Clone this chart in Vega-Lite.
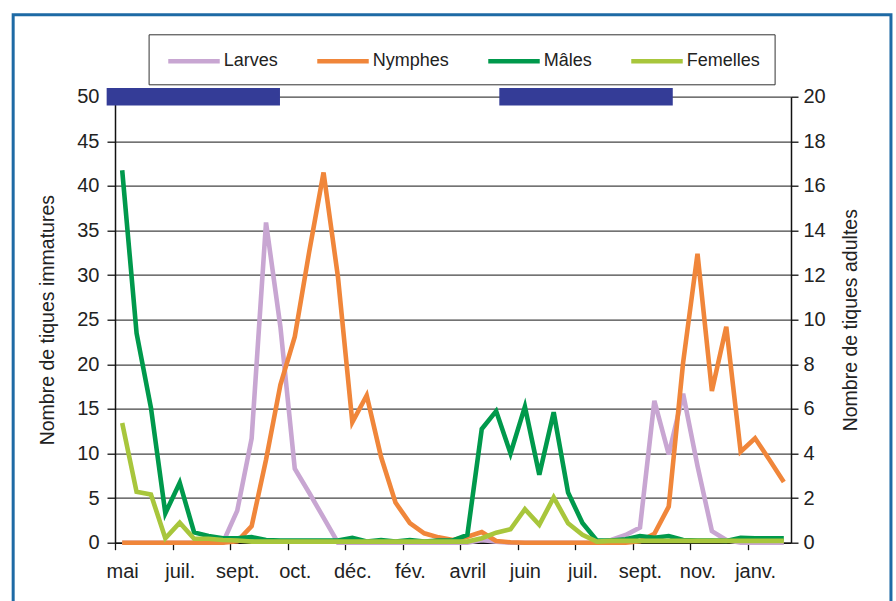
{
  "$schema": "https://vega.github.io/schema/vega-lite/v6.json",
  "width": 676,
  "height": 446,
  "autosize": {"type": "none"},
  "padding": {"left": 115, "top": 96.7, "right": 105, "bottom": 58.3},
  "background": "white",
  "datasets": {
    "comptages": [
      {"i": 0, "Larves": 0, "Nymphes": 0, "Mâles": 16.7, "Femelles": 5.37},
      {"i": 1, "Larves": 0, "Nymphes": 0, "Mâles": 9.4, "Femelles": 2.28},
      {"i": 2, "Larves": 0, "Nymphes": 0, "Mâles": 6.05, "Femelles": 2.16},
      {"i": 3, "Larves": 0, "Nymphes": 0, "Mâles": 1.32, "Femelles": 0.2},
      {"i": 4, "Larves": 0, "Nymphes": 0, "Mâles": 2.69, "Femelles": 0.9},
      {"i": 5, "Larves": 0, "Nymphes": 0, "Mâles": 0.46, "Femelles": 0.18},
      {"i": 6, "Larves": 0, "Nymphes": 0, "Mâles": 0.3, "Femelles": 0.18},
      {"i": 7, "Larves": 0, "Nymphes": 0, "Mâles": 0.2, "Femelles": 0.12},
      {"i": 8, "Larves": 3.6, "Nymphes": 0.15, "Mâles": 0.2, "Femelles": 0.1},
      {"i": 9, "Larves": 11.7, "Nymphes": 1.85, "Mâles": 0.25, "Femelles": 0.05},
      {"i": 10, "Larves": 35.9, "Nymphes": 9.3, "Mâles": 0.12, "Femelles": 0.05},
      {"i": 11, "Larves": 24.2, "Nymphes": 17.7, "Mâles": 0.1, "Femelles": 0.05},
      {"i": 12, "Larves": 8.3, "Nymphes": 23.1, "Mâles": 0.1, "Femelles": 0.05},
      {"i": 13, "Larves": 5.6, "Nymphes": 32.6, "Mâles": 0.1, "Femelles": 0.05},
      {"i": 14, "Larves": 2.8, "Nymphes": 41.5, "Mâles": 0.1, "Femelles": 0.05},
      {"i": 15, "Larves": 0, "Nymphes": 29.8, "Mâles": 0.1, "Femelles": 0.05},
      {"i": 16, "Larves": 0, "Nymphes": 13.5, "Mâles": 0.22, "Femelles": 0.05},
      {"i": 17, "Larves": 0, "Nymphes": 16.5, "Mâles": 0.05, "Femelles": 0.05},
      {"i": 18, "Larves": 0, "Nymphes": 9.6, "Mâles": 0.12, "Femelles": 0.05},
      {"i": 19, "Larves": 0, "Nymphes": 4.5, "Mâles": 0.05, "Femelles": 0.05},
      {"i": 20, "Larves": 0, "Nymphes": 2.2, "Mâles": 0.12, "Femelles": 0.05},
      {"i": 21, "Larves": 0, "Nymphes": 1.05, "Mâles": 0.05, "Femelles": 0.05},
      {"i": 22, "Larves": 0, "Nymphes": 0.6, "Mâles": 0.1, "Femelles": 0.05},
      {"i": 23, "Larves": 0, "Nymphes": 0.3, "Mâles": 0.1, "Femelles": 0.05},
      {"i": 24, "Larves": 0, "Nymphes": 0.67, "Mâles": 0.35, "Femelles": 0.05},
      {"i": 25, "Larves": 0.3, "Nymphes": 1.2, "Mâles": 5.1, "Femelles": 0.2},
      {"i": 26, "Larves": 0.1, "Nymphes": 0.2, "Mâles": 5.9, "Femelles": 0.45},
      {"i": 27, "Larves": 0, "Nymphes": 0.05, "Mâles": 4.0, "Femelles": 0.6},
      {"i": 28, "Larves": 0, "Nymphes": 0, "Mâles": 6.1, "Femelles": 1.5},
      {"i": 29, "Larves": 0, "Nymphes": 0, "Mâles": 3.05, "Femelles": 0.8},
      {"i": 30, "Larves": 0, "Nymphes": 0, "Mâles": 5.85, "Femelles": 2.03},
      {"i": 31, "Larves": 0, "Nymphes": 0, "Mâles": 2.25, "Femelles": 0.87},
      {"i": 32, "Larves": 0, "Nymphes": 0, "Mâles": 0.88, "Femelles": 0.35},
      {"i": 33, "Larves": 0, "Nymphes": 0, "Mâles": 0.1, "Femelles": 0.05},
      {"i": 34, "Larves": 0.3, "Nymphes": 0, "Mâles": 0.1, "Femelles": 0.08},
      {"i": 35, "Larves": 0.86, "Nymphes": 0, "Mâles": 0.15, "Femelles": 0.08},
      {"i": 36, "Larves": 1.7, "Nymphes": 0.15, "Mâles": 0.3, "Femelles": 0.08},
      {"i": 37, "Larves": 15.9, "Nymphes": 1.0, "Mâles": 0.22, "Femelles": 0.08},
      {"i": 38, "Larves": 9.9, "Nymphes": 4.05, "Mâles": 0.3, "Femelles": 0.08},
      {"i": 39, "Larves": 16.7, "Nymphes": 20.2, "Mâles": 0.12, "Femelles": 0.08},
      {"i": 40, "Larves": 8.6, "Nymphes": 32.4, "Mâles": 0.1, "Femelles": 0.08},
      {"i": 41, "Larves": 1.3, "Nymphes": 17.0, "Mâles": 0.1, "Femelles": 0.08},
      {"i": 42, "Larves": 0.3, "Nymphes": 24.2, "Mâles": 0.08, "Femelles": 0.08},
      {"i": 43, "Larves": 0, "Nymphes": 10.2, "Mâles": 0.22, "Femelles": 0.08},
      {"i": 44, "Larves": 0, "Nymphes": 11.7, "Mâles": 0.2, "Femelles": 0.08},
      {"i": 45, "Larves": 0, "Nymphes": 9.3, "Mâles": 0.2, "Femelles": 0.08},
      {"i": 46, "Larves": 0, "Nymphes": 6.8, "Mâles": 0.2, "Femelles": 0.08}
    ],
    "periodes": [
      {"debut": -1.08, "fin": 10.97},
      {"debut": 26.22, "fin": 38.28}
    ]
  },
  "layer": [
    {
      "layer": [
        {
          "data": {"values": [{}]},
          "mark": {"type": "rect", "fillOpacity": 0, "stroke": "#1e6aa5", "strokeWidth": 3},
          "encoding": {
            "x": {"datum": -7.58, "type": "quantitative", "scale": {"domain": [-0.5, 46.5], "nice": false, "zero": false}},
            "x2": {"datum": 53.45},
            "y": {"datum": 59.19, "type": "quantitative", "scale": {"domain": [0, 50], "nice": false}},
            "y2": {"datum": -10}
          }
        },
        {
          "data": {"name": "periodes"},
          "mark": {"type": "rule", "color": "#343c97", "strokeWidth": 17.4, "strokeCap": "butt"},
          "encoding": {
            "x": {"field": "debut", "type": "quantitative"},
            "x2": {"field": "fin"},
            "y": {"datum": 50, "type": "quantitative"}
          }
        },
        {
          "data": {"name": "comptages"},
          "transform": [{"fold": ["Larves", "Nymphes"], "as": ["serie", "n"]}],
          "mark": {"type": "line", "strokeWidth": 4.6},
          "encoding": {
            "x": {
              "field": "i",
              "type": "quantitative",
              "scale": {"domain": [-0.5, 46.5], "nice": false, "zero": false},
              "axis": {
                "title": null,
                "values": [-0.5, 0.5, 1.5, 2.5, 3.5, 4.5, 5.5, 6.5, 7.5, 8.5, 9.5, 10.5, 11.5, 12.5, 13.5, 14.5, 15.5, 16.5, 17.5, 18.5, 19.5, 20.5, 21.5, 22.5, 23.5, 24.5, 25.5, 26.5, 27.5, 28.5, 29.5, 30.5, 31.5, 32.5, 33.5, 34.5, 35.5, 36.5, 37.5, 38.5, 39.5, 40.5, 41.5, 42.5, 43.5, 44.5, 45.5, 46.5],
                "labelExpr": "(datum.value + 0.5) % 4 == 0 ? ['mai','juil.','sept.','oct.','déc.','fév.','avril','juin','juil.','sept.','nov.','janv.'][(datum.value + 0.5) / 4] : ''",
                "labelOffset": 7.2,
                "labelFlush": false,
                "labelOverlap": false,
                "labelBound": false,
                "labelPadding": 12,
                "tickSize": 7,
                "grid": false
              }
            },
            "y": {
              "field": "n",
              "type": "quantitative",
              "scale": {"domain": [0, 50], "nice": false},
              "axis": {
                "title": "Nombre de tiques immatures",
                "values": [0, 5, 10, 15, 20, 25, 30, 35, 40, 45, 50],
                "grid": true,
                "tickSize": 8,
                "labelPadding": 8,
                "titlePadding": 19
              }
            },
            "color": {
              "field": "serie",
              "type": "nominal",
              "scale": {"domain": ["Larves", "Nymphes", "Mâles", "Femelles"], "range": ["#c8a6d2", "#f0863a", "#00994c", "#a8c63c"]},
              "legend": {
                "orient": "none",
                "legendX": 33.6,
                "legendY": -62.4,
                "direction": "horizontal",
                "title": null,
                "symbolType": "M-2.5,0H2.5",
                "symbolSize": 424,
                "symbolStrokeWidth": 4.5,
                "symbolOffset": 18.4,
                "labelFontSize": 18,
                "labelFont": "Liberation Sans",
                "labelColor": "#222",
                "labelOffset": 16.8,
                "columnPadding": 29,
                "padding": 14,
                "strokeColor": "#333",
                "fillColor": "white",
                "labelLimit": 300
              }
            }
          }
        }
      ]
    },
    {
      "data": {"name": "comptages"},
      "transform": [{"fold": ["Mâles", "Femelles"], "as": ["serie", "n"]}],
      "mark": {"type": "line", "strokeWidth": 4.6},
      "encoding": {
        "x": {"field": "i", "type": "quantitative"},
        "y": {
          "field": "n",
          "type": "quantitative",
          "scale": {"domain": [0, 20], "nice": false},
          "axis": {
            "orient": "right",
            "title": "Nombre de tiques adultes",
            "values": [0, 2, 4, 6, 8, 10, 12, 14, 16, 18, 20],
            "grid": false,
            "tickSize": 7,
            "labelPadding": 5,
            "titleAngle": 270,
            "titleBaseline": "top",
            "titlePadding": 16
          }
        },
        "color": {"field": "serie", "type": "nominal"}
      }
    }
  ],
  "resolve": {"scale": {"y": "independent"}, "axis": {"y": "independent"}},
  "config": {
    "view": {"stroke": null},
    "axis": {
      "labelFont": "Liberation Sans",
      "labelFontSize": 20,
      "labelColor": "#222",
      "titleFont": "Liberation Sans",
      "titleFontSize": 19.5,
      "titleFontWeight": "normal",
      "titleColor": "#222",
      "domainColor": "#111",
      "domainWidth": 1.5,
      "tickColor": "#111",
      "tickWidth": 1.3,
      "gridColor": "#444",
      "gridWidth": 1.2
    }
  }
}
